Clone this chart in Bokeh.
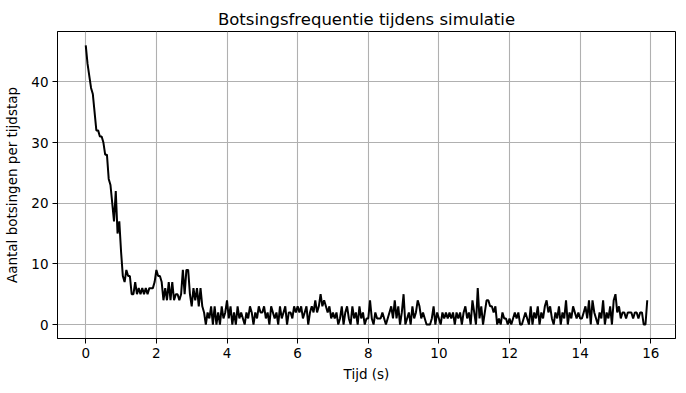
from bokeh.plotting import figure
from bokeh.models import Range1d, FixedTicker, ColumnDataSource
from bokeh.embed import file_html
from bokeh.resources import INLINE

DT = 0.05  # time step (s)
collisions = [
    46, 43, 41, 39, 38, 35, 32, 32, 31, 31, 30, 28, 28, 24, 23, 20, 17, 22, 15, 17,
    12, 8, 7, 9, 8, 8, 5, 5, 7, 5, 6, 5, 6, 5, 6, 5, 6, 6, 6, 7,
    9, 8, 8, 7, 4, 6, 4, 7, 4, 7, 4, 5, 5, 4, 5, 9, 5, 9, 9, 5,
    3, 6, 4, 6, 3, 6, 3, 2, 0, 2, 1, 3, 0, 3, 0, 2, 0, 3, 1, 2,
    4, 1, 3, 0, 2, 0, 3, 1, 2, 1, 0, 2, 1, 3, 2, 0, 2, 1, 3, 2,
    2, 3, 1, 2, 0, 3, 2, 1, 2, 0, 3, 1, 2, 3, 0, 2, 2, 1, 3, 2,
    3, 2, 3, 1, 2, 3, 0, 2, 3, 2, 4, 2, 3, 5, 3, 4, 3, 2, 3, 1,
    2, 1, 2, 0, 1, 3, 0, 2, 3, 1, 0, 3, 1, 2, 0, 3, 1, 2, 0, 1,
    1, 4, 1, 0, 2, 1, 1, 1, 2, 1, 0, 1, 2, 3, 1, 4, 1, 3, 0, 2,
    5, 0, 1, 2, 0, 3, 1, 2, 4, 3, 1, 2, 1, 0, 0, 0, 1, 3, 0, 2,
    1, 0, 2, 1, 2, 1, 2, 1, 2, 0, 2, 1, 2, 0, 2, 3, 1, 2, 0, 4,
    2, 0, 6, 1, 3, 0, 2, 4, 4, 3, 3, 2, 3, 0, 1, 0, 2, 1, 1, 0,
    1, 0, 1, 2, 1, 2, 0, 0, 1, 2, 1, 0, 3, 0, 2, 1, 3, 0, 2, 1,
    3, 4, 2, 3, 1, 0, 2, 1, 3, 0, 2, 1, 4, 0, 2, 1, 3, 2, 1, 2,
    1, 1, 2, 3, 1, 4, 0, 4, 2, 1, 0, 2, 1, 4, 0, 2, 1, 3, 0, 4,
    5, 2, 3, 1, 2, 2, 1, 2, 2, 2, 1, 2, 2, 1, 2, 2, 0, 0, 4,
]
times = [round(i * DT, 2) for i in range(len(collisions))]
x_ticks = [0, 2, 4, 6, 8, 10, 12, 14, 16]
y_ticks = [0, 10, 20, 30, 40]

FONT = "DejaVu Sans"

p = figure(
    output_backend="svg", toolbar_location=None,
    width=677, height=384,
    min_border_left=57, min_border_right=2, min_border_top=31, min_border_bottom=41,
    x_range=Range1d(-0.8, 16.7), y_range=Range1d(-2.3, 48.3),
    title="Botsingsfrequentie tijdens simulatie",
)
src = ColumnDataSource(dict(t=times, n=collisions))
p.line("t", "n", source=src, line_color="black", line_width=2)

p.title.align = "center"
p.title.text_font = FONT
p.title.text_font_size = "16.5px"
p.title.text_font_style = "normal"
p.title.text_color = "black"
p.title.standoff = 5

p.outline_line_color = "black"
p.outline_line_width = 1
p.outline_line_alpha = 1

for ax, ticks, label in ((p.xaxis[0], x_ticks, "Tijd (s)"), (p.yaxis[0], y_ticks, "Aantal botsingen per tijdstap")):
    ax.ticker = FixedTicker(ticks=ticks)
    ax.axis_label = label
    ax.axis_label_text_font = FONT
    ax.axis_label_text_font_size = "13.5px"
    ax.axis_label_text_font_style = "normal"
    ax.axis_label_text_color = "black"
    ax.major_label_text_font = FONT
    ax.major_label_text_font_size = "13.5px"
    ax.major_label_text_color = "black"
    ax.axis_line_color = "black"
    ax.major_tick_line_color = "black"
    ax.major_tick_out = 5
    ax.major_tick_in = 0
    ax.minor_tick_line_color = None
    ax.major_label_standoff = 4
p.xaxis[0].axis_label_standoff = 5
p.yaxis[0].axis_label_standoff = 8

for g in (p.xgrid[0], p.ygrid[0]):
    g.grid_line_color = "#b0b0b0"
    g.grid_line_width = 1.1
p.xgrid[0].ticker = FixedTicker(ticks=x_ticks)
p.ygrid[0].ticker = FixedTicker(ticks=y_ticks)

open("out.html", "w").write(file_html(p, INLINE))
